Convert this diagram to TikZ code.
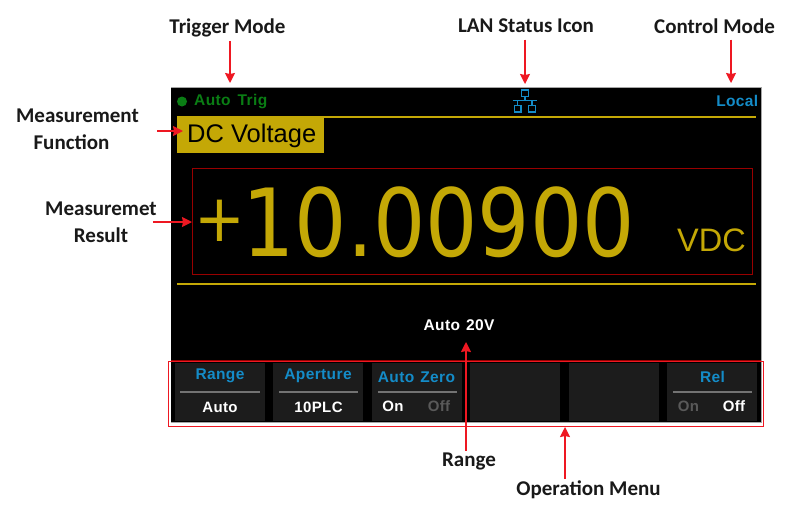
\documentclass[tikz,border=0pt]{standalone}
\usepackage{fontspec}
\setmainfont{Carlito}
\newfontfamily\lcdfont{Liberation Sans}
\newfontfamily\lcdbold[LetterSpace=2.5]{Liberation Sans}
\newfontfamily\bigfont{DejaVu Sans}
\usetikzlibrary{arrows.meta,positioning}
\definecolor{lcdgold}{RGB}{196,168,6}
\definecolor{lcdblue}{RGB}{20,140,200}
\definecolor{lcdgreen}{RGB}{10,125,20}
\definecolor{keygray}{RGB}{28,28,28}
\definecolor{markred}{RGB}{238,24,34}
\tikzset{
  callout/.style={font=\fontsize{21}{27}\selectfont\bfseries,align=center,inner sep=0pt,text=black!90},
  pointer/.style={draw=markred,line width=1.5pt,-{Stealth[length=10pt,width=10pt,inset=1pt]}},
  softkey/.style={fill=keygray,draw=none,minimum width=90pt,minimum height=58pt,inner sep=0pt},
  keytitle/.style={font=\lcdbold\fontsize{15.5}{17}\selectfont\bfseries,text=lcdblue,inner sep=0pt},
  keyvalue/.style={font=\lcdbold\fontsize{15}{17}\selectfont\bfseries,text=white,inner sep=0pt},
  keyoff/.style={font=\lcdbold\fontsize{15}{17}\selectfont\bfseries,text=black!65,inner sep=0pt},
}
\begin{document}
\begin{tikzpicture}[x=1pt,y=-1pt]
  \useasboundingbox (0,0) rectangle (786,509);
  \fill[black] (171,87) rectangle (761,422);
  \draw[black!35,line width=0.7pt] (171,87) -- (761,87) -- (761,422) -- (171,422);
  \draw[lcdgold,line width=1.8pt] (177,117) -- (756,117);
  \draw[lcdgold,line width=1.8pt] (177,284) -- (756,284);
  \fill[lcdgreen] (182,101.5) circle (5pt);
  \node[anchor=west,inner sep=0pt,text=lcdgreen,font=\lcdbold\fontsize{15.5}{17}\selectfont\bfseries] (trigtext) at (194,101.5) {Auto\hspace{7pt}Trig};
  \node[anchor=east,inner sep=0pt,text=lcdblue,font=\lcdbold\fontsize{15.5}{17}\selectfont\bfseries] (localtext) at (758.5,100.7) {Local};
  \draw[lcdblue,line width=1.3pt]
    (521.7,90) rectangle (528.3,96.7)
    (525,96.7) -- (525,100.7)
    (512.5,100.7) -- (537,100.7)
    (517.5,100.7) -- (517.5,105.7) (532,100.7) -- (532,105.7)
    (514.2,105.7) rectangle (521,112)
    (528.5,105.7) rectangle (535.5,112);
  \node[fill=lcdgold,text=black,anchor=north west,minimum width=147pt,minimum height=37pt,inner sep=0pt,font=\lcdfont\fontsize{25.5}{28}\selectfont] (function) at (177,115.7) {\raisebox{0pt}[20pt][3pt]{\hspace{2pt}DC Voltage}};
  \node[draw=red!60!black,line width=0.7pt,anchor=north west,minimum width=560pt,minimum height=106pt,inner sep=0pt] (resultbox) at (192.4,168.3) {};
  \node[anchor=west,inner sep=0pt,text=lcdgold,font=\bigfont\fontsize{94}{94}\selectfont] (result) at (194,222) {\scalebox{0.875}[1]{\scalebox{1.05}[1]{\raisebox{15pt}{\fontsize{66}{66}\selectfont +}}\hspace{-3pt}10.00900}};
  \node[anchor=east,inner sep=0pt,text=lcdgold,font=\lcdfont\fontsize{32.5}{34}\selectfont] (unit) at (746,240) {VDC};
  \node[inner sep=0pt,text=white,font=\lcdbold\fontsize{15.5}{17}\selectfont\bfseries] (rangetext) at (459,325) {Auto\hspace{6pt}20V};
  \foreach \name/\cx in {one/219.5,two/318,three/417,four/515,five/613.5,six/712}{
    \node[softkey] (\name) at (\cx,392) {};
  }
  \foreach \name in {one,two,three,six}{
    \draw[black!55,line width=1.5pt] ([xshift=6pt]\name.west) -- ([xshift=-5pt]\name.east);
  }
  \node[keytitle] (rangetitle) at (220,376) {Range};
  \node[keyvalue] (rangevalue) at (220,407) {Auto};
  \node[keytitle] (aperturetitle) at (318,376) {Aperture};
  \node[keyvalue] (aperturevalue) at (318.5,407) {10PLC};
  \node[keytitle] (zerotitle) at (416.5,377) {Auto\hspace{6pt}Zero};
  \node[keyvalue] (zeroon) at (393,406) {On};
  \node[keyoff] (zerooff) at (439,406) {Off};
  \node[keytitle] (reltitle) at (712.5,377) {Rel};
  \node[keyoff] (relon) at (688.5,406) {On};
  \node[keyvalue] (reloff) at (734,406) {Off};
  \node[draw=markred,line width=0.8pt,anchor=north west,minimum width=595pt,minimum height=65pt,inner sep=0pt] (menubox) at (168.3,360.7) {};
  \draw[red!60!black,line width=0.9pt] (171,360.7) -- (761,360.7);
  \node[callout] (trigger) at (227.5,27.5) {Trigger Mode};
  \node[callout] (lan) at (526,25.5) {LAN Status Icon};
  \node[callout] (control) at (714.5,26) {Control Mode};
  \node[callout] (funclabel) at (77.5,129) {Measurement\\\mbox{Function\kern12pt}};
  \node[callout] (resultlabel) at (101,222) {Measuremet\\Result};
  \node[callout] (rangelabel) at (469,461.5) {Range};
  \node[callout] (menulabel) at (588.5,490) {Operation Menu};
  \coordinate (trigtip) at (230,83);
  \coordinate (lantip) at (525,84);
  \coordinate (controltip) at (731,83);
  \coordinate (functip) at (183,131);
  \coordinate (resulttip) at (192,222);
  \coordinate (rangetip) at (466,342);
  \coordinate (menutip) at (565,427);
  \draw[pointer] ([yshift=-4pt]trigger.south -| trigtip) -- (trigtip);
  \draw[pointer] ([yshift=-7pt]lan.south -| lantip) -- (lantip);
  \draw[pointer] ([yshift=-6pt]control.south -| controltip) -- (controltip);
  \draw[pointer] ([xshift=18pt]funclabel.east |- functip) -- (functip);
  \draw[pointer] ([xshift=-4pt]resultlabel.east |- resulttip) -- (resulttip);
  \draw[pointer] ([yshift=1.5pt]rangelabel.north -| rangetip) -- (rangetip);
  \draw[pointer] ([yshift=2pt]menulabel.north -| menutip) -- (menutip);
\end{tikzpicture}
\end{document}
